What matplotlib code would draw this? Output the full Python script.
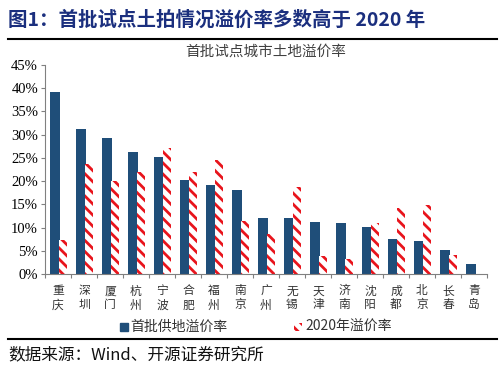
import matplotlib
matplotlib.use("Agg")
import matplotlib.pyplot as plt
import numpy as np
from matplotlib.patches import Rectangle

plt.rcParams['font.family'] = ['Noto Sans CJK SC', 'DejaVu Sans']
plt.rcParams['hatch.linewidth'] = 2.0

cities = ["重庆", "深圳", "厦门", "杭州", "宁波", "合肥", "福州", "南京", "广州",
          "无锡", "天津", "济南", "沈阳", "成都", "北京", "长春", "青岛"]
first_batch = [39.2, 31.2, 29.2, 26.2, 25.2, 20.2, 19.2, 18.2, 12.1,
               12.1, 11.2, 11.0, 10.2, 7.6, 7.2, 5.2, 2.2]
rate_2020 = [7.4, 23.6, 20.1, 22.0, 27.2, 21.9, 24.5, 11.5, 8.6,
             18.7, 4.0, 3.3, 11.0, 14.2, 14.9, 4.1, 0.0]
yticks = [0, 5, 10, 15, 20, 25, 30, 35, 40, 45]
blue = "#1F4E79"
red = "#E8141C"
navy = "#1B2F7E"
HATCH = "\\\\\\"

fig = plt.figure(figsize=(5.0, 3.69), dpi=100)
ax = fig.add_axes([0.09, 0.257, 0.884, 0.567])
x = np.arange(len(cities))
ax.bar(x - 0.13, first_batch, width=0.38, color=blue, zorder=2)
ax.bar(x + 0.19, rate_2020, width=0.32, color="white", edgecolor=red,
       hatch=HATCH, linewidth=0, zorder=2)
ax.set_xlim(-0.5, len(cities) - 0.5)
ax.set_ylim(0, 45)
ax.set_yticks(yticks)
ax.set_yticklabels([f"{v}%" for v in yticks], family="Liberation Serif", fontsize=10.5)
ax.set_xticks(np.arange(len(cities) + 1) - 0.5)
ax.set_xticklabels([])
ax.tick_params(axis='x', length=3, color="#808080", width=0.8)
ax.tick_params(axis='y', length=3, color="#808080", width=0.8, pad=2)
for s in ["top", "right"]:
    ax.spines[s].set_visible(False)
for s in ["left", "bottom"]:
    ax.spines[s].set_color("#808080")
    ax.spines[s].set_linewidth(0.8)

for i, c in enumerate(cities):
    ax.text(i, -2.2, "\n".join(c), ha="center", va="top", fontsize=8.5,
            color="#333333", linespacing=1.1)

ax.text(0.5, 1.03, "首批试点城市土地溢价率", transform=ax.transAxes, ha="center",
        va="bottom", fontsize=10.5, color="#404040")

# legend
fig.patches.append(Rectangle((120/500, 1 - 331/369), 8/500, 8/369, color=blue,
                             transform=fig.transFigure, figure=fig))
fig.text(130/500, 1 - 327/369, "首批供地溢价率", fontsize=10, color="#333333",
         va="center", ha="left")
fig.patches.append(Rectangle((294/500, 1 - 331/369), 8/500, 8/369, facecolor="white",
                             edgecolor=red, hatch=HATCH, linewidth=0,
                             transform=fig.transFigure, figure=fig))
fig.text(305/500, 1 - 327/369, "2020年溢价率", fontsize=10, color="#333333",
         va="center", ha="left")

# header and footer
fig.text(8/500, 1 - 20/369, "图1：首批试点土拍情况溢价率多数高于 2020 年", fontsize=14,
         fontweight="bold", color=navy, va="center", ha="left")
fig.add_artist(plt.Line2D([8/500, 497/500], [1 - 39/369, 1 - 39/369], color="black",
                          linewidth=1.5, transform=fig.transFigure))
fig.add_artist(plt.Line2D([8/500, 497/500], [1 - 339/369, 1 - 339/369], color="black",
                          linewidth=1.5, transform=fig.transFigure))
fig.text(8/500, 1 - 355/369, "数据来源：Wind、开源证券研究所", fontsize=12,
         color="#111111", va="center", ha="left")

fig.savefig("out.png", dpi=100)
